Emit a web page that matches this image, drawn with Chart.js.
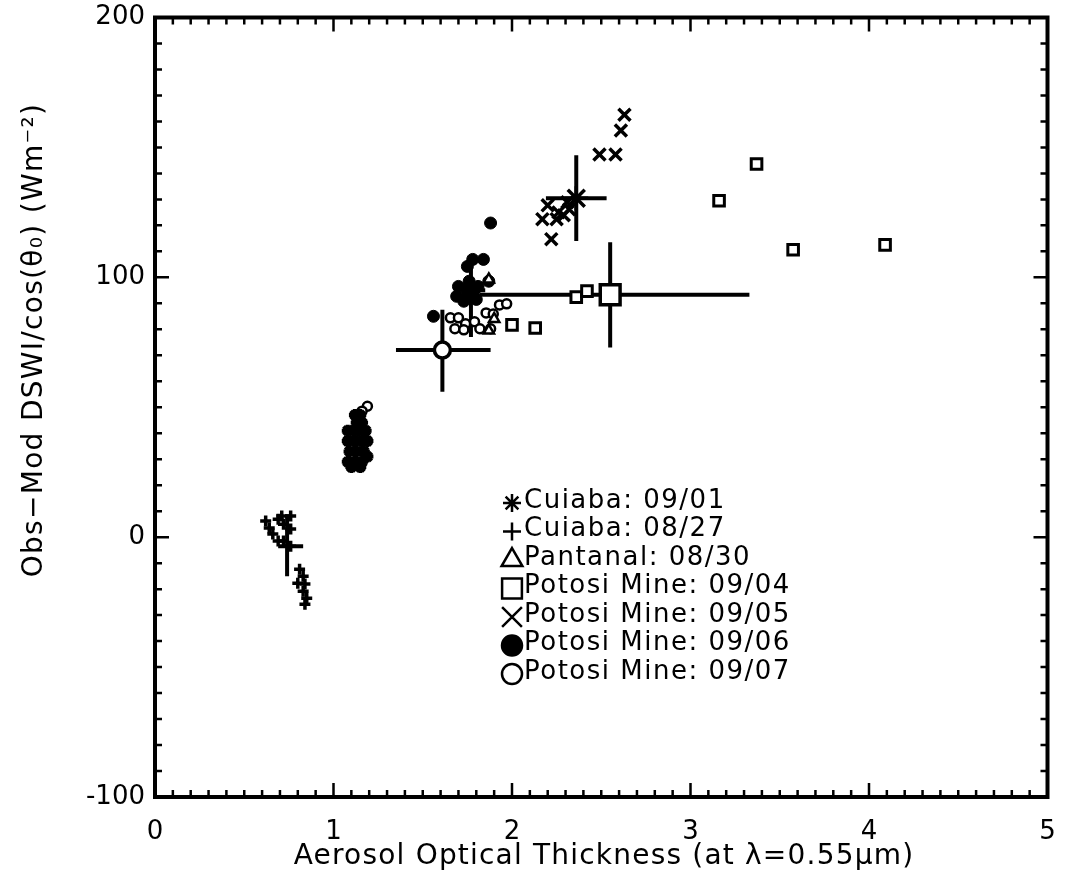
<!DOCTYPE html>
<html>
<head>
<meta charset="utf-8">
<script src="https://cdn.jsdelivr.net/npm/chart.js@4"></script>
<style>
  html, body { margin: 0; padding: 0; background: #fff; }
</style>
</head>
<body>
<canvas id="aotChart" width="1065" height="884"></canvas>
<script>
// Individual retrievals, one pair of arrays per site/day
const cuiaba0901X = [1.12, 1.15, 1.13, 1.16, 1.08, 1.11, 1.14, 1.18, 1.08, 1.12, 1.16, 1.19, 1.09, 1.13, 1.17, 1.19, 1.08, 1.12, 1.16, 1.10, 1.15];
const cuiaba0901Y = [47, 47, 44, 44, 41, 41, 41, 41, 37, 37, 37, 37, 33, 33, 33, 31, 29, 29, 29, 27, 27];

const cuiaba0827X = [0.62, 0.64, 0.66, 0.69, 0.71, 0.76, 0.72, 0.76, 0.69, 0.72, 0.76, 0.81, 0.83, 0.80, 0.84, 0.83, 0.85, 0.84];
const cuiaba0827Y = [6.2, 3.5, 1.2, 6.9, 8.1, 8.1, 5.0, 3.1, -1.5, -1.5, -3.5, -12.3, -15, -17.7, -18, -20.8, -23.5, -25.8];

const pantanal0830X = [1.87, 1.87, 1.90];
const pantanal0830Y = [99.2, 79.5, 84];

const potosi0904X = [2.00, 2.13, 2.36, 2.42, 3.16, 3.37, 3.575, 4.09];
const potosi0904Y = [81.7, 80.5, 92.4, 94.7, 129.5, 143.6, 110.6, 112.5];

const potosi0905X = [2.20, 2.17, 2.25, 2.29, 2.32, 2.31, 2.22, 2.26, 2.49, 2.58, 2.61, 2.63];
const potosi0905Y = [127.7, 122.4, 122.4, 123.9, 126.2, 128.9, 114.7, 125, 147.3, 147.3, 156.5, 162.6];

const potosi0906X = [1.88, 1.78, 1.84, 1.75, 1.70, 1.76, 1.81, 1.87, 1.69, 1.75, 1.80, 1.73, 1.56];
const potosi0906Y = [120.9, 106.9, 106.9, 104.2, 96.5, 98.5, 96.5, 98.5, 92.7, 93.8, 91.5, 90.8, 85];

const potosi0907X = [1.655, 1.70, 1.68, 1.74, 1.73, 1.79, 1.82, 1.855, 1.895, 1.93, 1.97, 1.88, 1.19, 1.16];
const potosi0907Y = [84.4, 84.4, 80.2, 82.1, 79.8, 82.9, 80.2, 86.3, 85.9, 89.4, 89.8, 80.2, 50.4, 48.5];

// Daily means with their spread
const meanX   = [0.74, 1.61, 1.77, 2.36, 2.55];
const meanY   = [-3.5, 72, 95, 130.4, 93.3];
const meanXLo = [0.69, 1.35, 1.72, 2.19, 1.82];
const meanXHi = [0.83, 1.88, 1.85, 2.53, 3.33];
const meanYLo = [-15, 56, 77, 114, 73];
const meanYHi = [8.8, 87.5, 108, 147, 113.5];

const xTicks = [0, 1, 2, 3, 4, 5];
const yTicks = [-100, 0, 100, 200];

const FONT = '"DejaVu Sans", sans-serif';
const INK = '#000';

// marker look for each series: [shape, radius, borderWidth, fill]
const looks = {
  star:     ['star', 6, 4, INK],
  cross:    ['cross', 5.5, 3.5, INK],
  triangle: ['triangle', 6, 2.5, '#fff'],
  rect:     ['rect', 7.5, 3, '#fff'],
  crossRot: ['crossRot', 8.5, 3.5, INK],
  dot:      ['circle', 6, 1, INK],
  ring:     ['circle', 4.5, 2.5, '#fff']
};
const meanLooks = [
  ['cross', 0, 0, INK],
  ['circle', 8, 3.5, '#fff'],
  ['circle', 9, 1, INK],
  ['star', 12, 3.5, INK],
  ['rect', 14, 3.5, '#fff']
];

function pts(xs, ys) {
  return xs.map((x, i) => ({ x: x, y: ys[i] }));
}

function series(label, xs, ys, look) {
  return {
    label: label,
    data: pts(xs, ys),
    pointStyle: look[0],
    pointRadius: look[1],
    pointBorderWidth: look[2],
    pointBackgroundColor: look[3],
    pointBorderColor: INK,
    showLine: false,
    keyEntry: true,
    order: 1
  };
}

const datasets = [
  series('Cuiaba: 09/01', cuiaba0901X, cuiaba0901Y, looks.star),
  series('Cuiaba: 08/27', cuiaba0827X, cuiaba0827Y, looks.cross),
  series('Pantanal: 08/30', pantanal0830X, pantanal0830Y, looks.triangle),
  series('Potosi Mine: 09/04', potosi0904X, potosi0904Y, looks.rect),
  series('Potosi Mine: 09/05', potosi0905X, potosi0905Y, looks.crossRot),
  series('Potosi Mine: 09/06', potosi0906X, potosi0906Y, looks.dot),
  series('Potosi Mine: 09/07', potosi0907X, potosi0907Y, looks.ring)
];

// error bars: one horizontal and one vertical segment per mean
meanX.forEach((mx, i) => {
  const seg = { showLine: true, borderColor: INK, borderWidth: 4, pointRadius: 0, order: 5 };
  datasets.push(Object.assign({ label: '_h' + i, data: [{ x: meanXLo[i], y: meanY[i] }, { x: meanXHi[i], y: meanY[i] }] }, seg));
  datasets.push(Object.assign({ label: '_v' + i, data: [{ x: mx, y: meanYLo[i] }, { x: mx, y: meanYHi[i] }] }, seg));
});
datasets.push({
  label: '_means',
  data: pts(meanX, meanY),
  pointStyle: meanLooks.map(l => l[0]),
  pointRadius: meanLooks.map(l => l[1]),
  pointBorderWidth: meanLooks.map(l => l[2]),
  pointBackgroundColor: meanLooks.map(l => l[3]),
  pointBorderColor: INK,
  showLine: false,
  order: 0
});

// frame, inward ticks on all four sides, axis titles and the key
const decor = {
  id: 'decor',
  afterDraw(chart) {
    const ctx = chart.ctx;
    const a = chart.chartArea;
    const xs = chart.scales.x, ys = chart.scales.y;
    ctx.save();
    ctx.strokeStyle = INK;
    ctx.lineWidth = 2.5;
    ctx.beginPath();
    for (let i = 1; i < 50; i++) {
      const px = xs.getPixelForValue(i / 10);
      const len = i % 10 === 0 ? 14 : 7;
      ctx.moveTo(px, a.bottom); ctx.lineTo(px, a.bottom - len);
      ctx.moveTo(px, a.top); ctx.lineTo(px, a.top + len);
    }
    for (let i = -9; i < 20; i++) {
      const py = ys.getPixelForValue(i * 10);
      const len = i % 10 === 0 ? 14 : 7;
      ctx.moveTo(a.left, py); ctx.lineTo(a.left + len, py);
      ctx.moveTo(a.right, py); ctx.lineTo(a.right - len, py);
    }
    ctx.stroke();
    ctx.lineWidth = 4;
    ctx.strokeRect(a.left, a.top, a.right - a.left, a.bottom - a.top);

    ctx.fillStyle = INK;
    ctx.font = '28px ' + FONT;
    ctx.textAlign = 'center';
    ctx.textBaseline = 'middle';
    ctx.save();
    ctx.letterSpacing = '1.2px';
    ctx.fillText('Aerosol Optical Thickness (at \u03bb=0.55\u03bcm)', 604, 857);
    ctx.restore();
    ctx.save();
    ctx.translate(35, 340);
    ctx.rotate(-Math.PI / 2);
    ctx.letterSpacing = '1.3px';
    ctx.fillText('Obs\u2212Mod DSWI/cos(\u03b8\u2080) (Wm\u207b\u00b2)', 0, 0);
    ctx.restore();

    // key
    const bigger = { star: 9, cross: 9, triangle: 12, rect: 14, crossRot: 14, circle: 10 };
    ctx.font = '26px ' + FONT;
    ctx.textAlign = 'left';
    ctx.letterSpacing = '1.5px';
    let row = 0;
    chart.data.datasets.forEach(ds => {
      if (!ds.keyEntry) return;
      const y = 501 + row * 28.5;
      ctx.lineWidth = 2.5;
      ctx.strokeStyle = INK;
      ctx.fillStyle = ds.pointBackgroundColor;
      Chart.helpers.drawPoint(ctx, { pointStyle: ds.pointStyle, radius: bigger[ds.pointStyle], borderWidth: 2.5 }, 512, y + 2);
      ctx.fillStyle = INK;
      ctx.fillText(ds.label, 524, y);
      row++;
    });
    ctx.restore();
  }
};

new Chart(document.getElementById('aotChart'), {
  type: 'scatter',
  data: { datasets: datasets },
  plugins: [decor],
  options: {
    responsive: false,
    animation: false,
    layout: { padding: { top: 15, right: 13, left: 0, bottom: 0 } },
    plugins: { legend: { display: false }, tooltip: { enabled: false } },
    scales: {
      x: {
        min: 0, max: 5,
        afterBuildTicks: s => { s.ticks = xTicks.map(v => ({ value: v })); },
        afterFit: s => { s.height = 87; s.paddingLeft = 0; s.paddingRight = 0; },
        grid: { display: false, drawTicks: false },
        border: { display: false },
        ticks: { color: INK, font: { family: FONT, size: 26 }, padding: 20 }
      },
      y: {
        min: -100, max: 200,
        afterBuildTicks: s => { s.ticks = yTicks.map(v => ({ value: v })); },
        afterFit: s => { s.width = 155; s.paddingTop = 0; s.paddingBottom = 0; },
        grid: { display: false, drawTicks: false },
        border: { display: false },
        ticks: { color: INK, font: { family: FONT, size: 26 }, padding: 10 }
      }
    }
  }
});
</script>
</body>
</html>
